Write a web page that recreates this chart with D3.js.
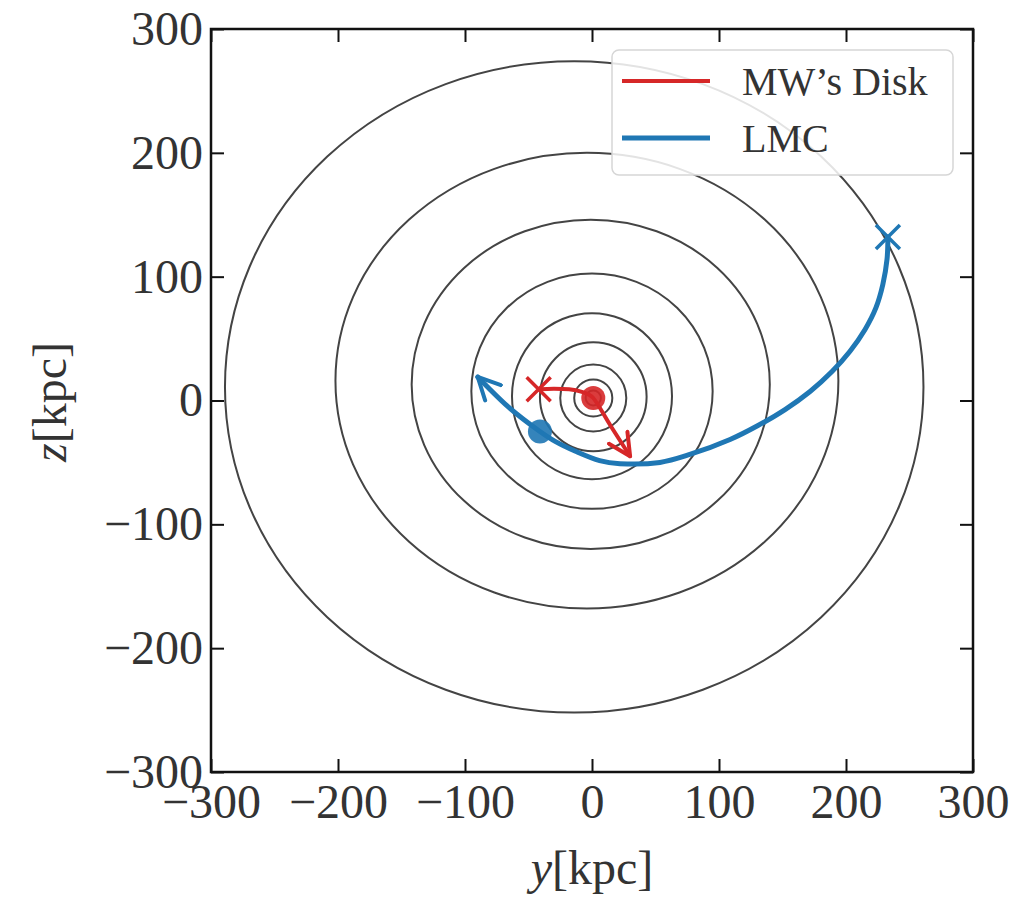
<!DOCTYPE html>
<html>
<head>
<meta charset="utf-8">
<script src="https://cdn.jsdelivr.net/npm/d3@7"></script>
<style>
  body { margin: 0; background: #fff; }
  text { font-family: "Liberation Serif", "DejaVu Serif", serif; }
</style>
</head>
<body>
<svg id="chart" width="1032" height="897"></svg>
<script>
// axis ticks (kpc)
var ticks = [-300, -200, -100, 0, 100, 200, 300];

// potential contours: centre and semi-axes (kpc)
var contourCy = [-14, -4, -1, 0, 0, 1, 1, 1, 1];
var contourCz = [11, 16, 13, 7.5, 3.5, 3, 2, 2, 2];
var contourRy = [275, 198, 141, 95, 63, 42, 26, 15, 6];
var contourRz = [263, 184, 133, 95, 67, 44, 27, 15, 6];

// MW disk track (past x -> now dot -> arrow)
var mwY = [-42, -30, -18, -8, -2, 1, 15, 30];
var mwZ = [9, 9.5, 9, 7, 4.5, 2, -21, -45];

// LMC track
var lmcY = [233, 232.3, 229, 223.6, 215, 203, 189, 171.7, 152, 130.7, 108.7, 77, 53.5, 22, 6, -13, -29, -41, -65, -90];
var lmcZ = [132, 114, 93.7, 75, 57.4, 39.6, 23.4, 7.3, -7.3, -20.2, -31.5, -43.6, -50, -51, -48.5, -41, -33, -25, -6, 19];

var mwStart = [-42, 9], mwNow = [1, 2];
var lmcStart = [233, 132], lmcNow = [-41, -25];

var seriesNames = ["MW\u2019s Disk", "LMC"];
var seriesColors = ["#d62728", "#1f77b4"];

var svg = d3.select('#chart');
var plotLeft = 211, plotRight = 973, plotTop = 29, plotBottom = 772;

var x = d3.scaleLinear().domain([-300, 300]).range([plotLeft, plotRight]);
var y = d3.scaleLinear().domain([-300, 300]).range([plotBottom, plotTop]);

// arrow heads
var defs = svg.append('defs');
seriesColors.forEach(function(c, i) {
  defs.append('marker')
    .attr('id', 'arrow' + i)
    .attr('markerUnits', 'userSpaceOnUse')
    .attr('viewBox', '0 0 26 26')
    .attr('refX', 24).attr('refY', 13)
    .attr('markerWidth', 26).attr('markerHeight', 26)
    .attr('orient', 'auto')
    .append('path')
    .attr('d', 'M2,2 L24,13 L2,24')
    .attr('fill', 'none')
    .attr('stroke', c)
    .attr('stroke-width', 4)
    .attr('stroke-linecap', 'round')
    .attr('stroke-linejoin', 'round');
});

var plot = svg.append('g');

// contours
plot.selectAll('ellipse.contour')
  .data(contourRy)
  .enter().append('ellipse')
  .attr('class', 'contour')
  .attr('cx', function(d, i) { return x(contourCy[i]); })
  .attr('cy', function(d, i) { return y(contourCz[i]); })
  .attr('rx', function(d) { return x(d) - x(0); })
  .attr('ry', function(d, i) { return y(0) - y(contourRz[i]); })
  .attr('fill', 'none')
  .attr('stroke', '#444')
  .attr('stroke-width', 2);

var line = d3.line()
  .x(function(d) { return x(d[0]); })
  .y(function(d) { return y(d[1]); })
  .curve(d3.curveCatmullRom.alpha(0.5));

var lmcPts = lmcY.map(function(v, i) { return [v, lmcZ[i]]; });
var mwPts = mwY.map(function(v, i) { return [v, mwZ[i]]; });

function track(pts, i, w) {
  plot.append('path')
    .datum(pts)
    .attr('d', line)
    .attr('fill', 'none')
    .attr('stroke', seriesColors[i])
    .attr('stroke-width', w)
    .attr('stroke-linecap', 'round')
    .attr('stroke-linejoin', 'round')
    .attr('marker-end', 'url(#arrow' + i + ')');
}

function cross(p, c) {
  var s = 12;
  plot.append('path')
    .attr('d', 'M' + (x(p[0]) - s) + ',' + (y(p[1]) - s) + 'L' + (x(p[0]) + s) + ',' + (y(p[1]) + s) +
               'M' + (x(p[0]) - s) + ',' + (y(p[1]) + s) + 'L' + (x(p[0]) + s) + ',' + (y(p[1]) - s))
    .attr('stroke', c)
    .attr('stroke-width', 3.5);
}

function dot(p, c) {
  plot.append('circle')
    .attr('cx', x(p[0])).attr('cy', y(p[1]))
    .attr('r', 12)
    .attr('fill', c)
    .attr('fill-opacity', 0.9);
}

track(lmcPts, 1, 5);
cross(lmcStart, seriesColors[1]);
dot(lmcNow, seriesColors[1]);

track(mwPts, 0, 4);
cross(mwStart, seriesColors[0]);
dot(mwNow, seriesColors[0]);

// axes with inward ticks on every side
var fmt = function(d) { return d3.format('d')(d).replace('-', '\u2212'); };
var axisB = svg.append('g').attr('transform', 'translate(0,' + plotBottom + ')')
  .call(d3.axisBottom(x).tickValues(ticks).tickSizeInner(-13).tickSizeOuter(0).tickPadding(12).tickFormat(fmt));
var axisL = svg.append('g').attr('transform', 'translate(' + plotLeft + ',0)')
  .call(d3.axisLeft(y).tickValues(ticks).tickSizeInner(-13).tickSizeOuter(0).tickPadding(8).tickFormat(fmt));
var axisT = svg.append('g').attr('transform', 'translate(0,' + plotTop + ')')
  .call(d3.axisTop(x).tickValues(ticks).tickSizeInner(-13).tickSizeOuter(0).tickFormat(''));
var axisR = svg.append('g').attr('transform', 'translate(' + plotRight + ',0)')
  .call(d3.axisRight(y).tickValues(ticks).tickSizeInner(-13).tickSizeOuter(0).tickFormat(''));

[axisB, axisL, axisT, axisR].forEach(function(a) {
  a.select('.domain').remove();
  a.selectAll('line').attr('stroke', '#111').attr('stroke-width', 2);
  a.selectAll('text').attr('font-family', '"Liberation Serif", serif').attr('font-size', 48).attr('fill', '#333');
});
axisB.selectAll('text').attr('dy', '0.71em');

svg.append('rect')
  .attr('x', plotLeft).attr('y', plotTop)
  .attr('width', plotRight - plotLeft).attr('height', plotBottom - plotTop)
  .attr('fill', 'none')
  .attr('stroke', '#111')
  .attr('stroke-width', 2.5);

// legend
var lg = svg.append('g').attr('transform', 'translate(612,50)');
lg.append('rect')
  .attr('width', 341).attr('height', 125)
  .attr('rx', 7)
  .attr('fill', '#fff').attr('fill-opacity', 0.85)
  .attr('stroke', '#d6d6d6').attr('stroke-width', 1.5);
seriesNames.forEach(function(n, i) {
  var yy = 31 + i * 57;
  lg.append('line')
    .attr('x1', 10).attr('x2', 98)
    .attr('y1', yy).attr('y2', yy)
    .attr('stroke', seriesColors[i])
    .attr('stroke-width', i === 0 ? 4 : 5);
  lg.append('text')
    .attr('x', 130).attr('y', yy + 14)
    .attr('font-size', 40)
    .attr('fill', '#333')
    .text(n);
});

// axis labels
var xl = svg.append('text')
  .attr('x', 592).attr('y', 884)
  .attr('text-anchor', 'middle')
  .attr('font-size', 48)
  .attr('fill', '#333');
xl.append('tspan').attr('font-style', 'italic').text('y');
xl.append('tspan').text('[kpc]');

var yl = svg.append('text')
  .attr('transform', 'translate(66,402) rotate(-90)')
  .attr('text-anchor', 'middle')
  .attr('font-size', 48)
  .attr('fill', '#333');
yl.append('tspan').attr('font-style', 'italic').text('z');
yl.append('tspan').text('[kpc]');
</script>
</body>
</html>
